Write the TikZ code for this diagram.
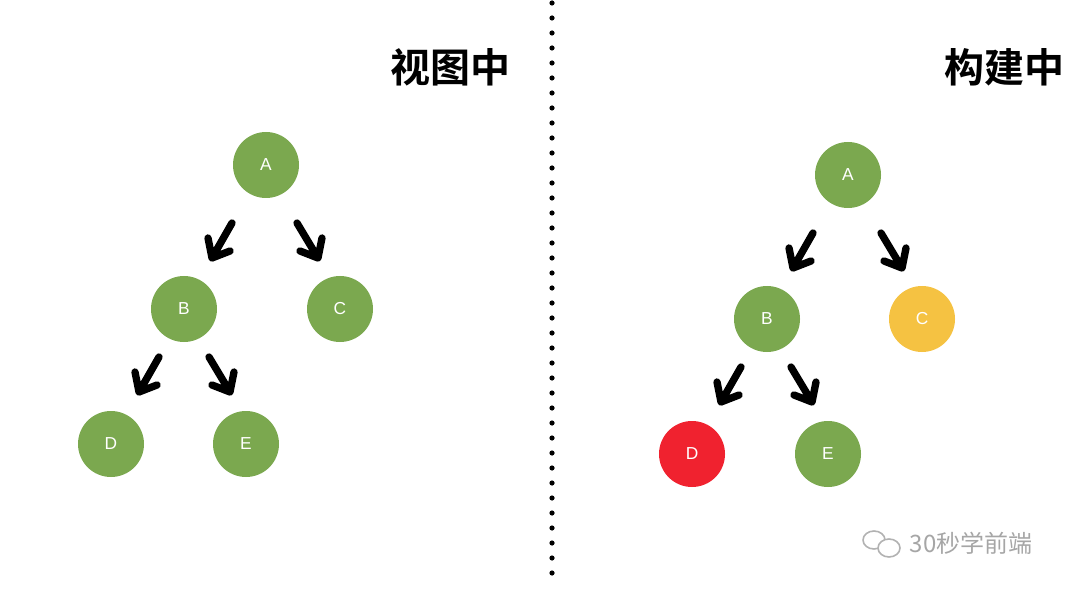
\documentclass[tikz,border=0pt]{standalone}
\usepackage{fontspec}
\setmainfont{Liberation Sans}
\newfontfamily\cjk{Noto Sans CJK SC}
\newfontfamily\cjkb{Noto Sans CJK SC Bold}
\definecolor{gr}{HTML}{7BA84F}
\definecolor{ye}{HTML}{F5C242}
\definecolor{re}{HTML}{F0222F}
\tikzset{
 nd/.style={circle,fill=gr,minimum size=49.5pt,inner sep=0pt,text=white,font=\fontsize{13pt}{13pt}\selectfont},
 arw/.style={line width=5.5pt,line cap=round,line join=round},
 ttl/.style={font=\cjkb\fontsize{30pt}{30pt}\selectfont,anchor=east}
}
\newcommand{\dl}[1]{\draw[arw] ($#1+(20,-35)$) -- #1 ($#1+(-4,-20)$) -- #1 -- ($#1+(18,-7)$);}
\newcommand{\dr}[1]{\draw[arw] ($#1+(-21,-35)$) -- #1 ($#1+(4,-20)$) -- #1 -- ($#1+(-18,-7)$);}
\usetikzlibrary{calc}
\begin{document}
\begin{tikzpicture}[x=0.75pt,y=-0.75pt]
\useasboundingbox (0,0) rectangle (1080,591);
\foreach \i in {0,...,38} \fill (552,3+15*\i) circle (2.6);
\node[ttl] (t1) at (515,67) {视图中};
\node[ttl] (t2) at (1069,67) {构建中};
% left tree
\node[nd] (a1) at (266,165) {A};
\node[nd] (b1) at (184,309) {B};
\node[nd] (c1) at (340,309) {C};
\node[nd] (d1) at (111,444) {D};
\node[nd] (e1) at (246,444) {E};
\coordinate (p1) at (212,258); \coordinate (p2) at (318,258);
\coordinate (p3) at (139,392); \coordinate (p4) at (230,392);
\dl{(p1)} \dr{(p2)} \dl{(p3)} \dr{(p4)}
% right tree
\node[nd] (a2) at (848,175) {A};
\node[nd] (b2) at (767,319) {B};
\node[nd,fill=ye] (c2) at (922,319) {C};
\node[nd,fill=re] (d2) at (692,454) {D};
\node[nd] (e2) at (828,454) {E};
\coordinate (q1) at (793,268); \coordinate (q2) at (902,268);
\coordinate (q3) at (721,402); \coordinate (q4) at (812,402);
\dl{(q1)} \dr{(q2)} \dl{(q3)} \dr{(q4)}
% watermark
\begin{scope}[draw=black!30,line width=1.2pt]
\draw (874,540) ellipse (11 and 9);
\draw[fill=white] (889,548) ellipse (11 and 9);
\end{scope}
\node[anchor=west,text=black!35,font=\cjk\fontsize{18pt}{18pt}\selectfont] (wm) at (905,543) {30秒学前端};
\end{tikzpicture}
\end{document}
